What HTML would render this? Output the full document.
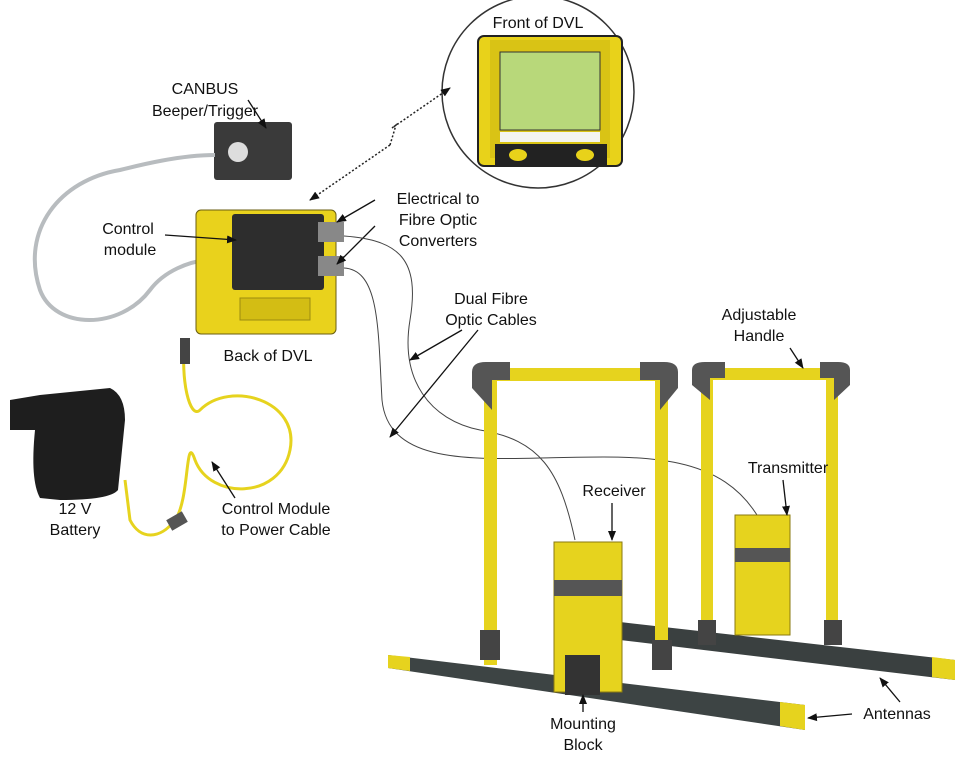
<!DOCTYPE html>
<html><head><meta charset="utf-8"><style>
html,body{margin:0;padding:0;background:#fff;}
svg{display:block;}
text{font-family:"Liberation Sans",Arial,sans-serif;font-size:16px;fill:#111;text-anchor:middle;}
</style></head><body>
<svg width="972" height="762" viewBox="0 0 972 762" xmlns="http://www.w3.org/2000/svg">
<defs>
<marker id="ah" markerWidth="10" markerHeight="10" refX="9" refY="5" orient="auto" markerUnits="userSpaceOnUse"><path d="M0,1 L10,5 L0,9 z" fill="#111"/></marker>
</defs>
<rect width="972" height="762" fill="#fff"/>

<!-- Front of DVL circle -->
<circle cx="538" cy="92" r="96" fill="#fff" stroke="#333" stroke-width="1.5"/>
<rect x="478" y="36" width="144" height="130" rx="6" fill="#e8d21a" stroke="#222" stroke-width="2"/>
<rect x="490" y="40" width="120" height="118" fill="#d9c315"/>
<rect x="500" y="52" width="100" height="78" fill="#b8d87a" stroke="#333"/>
<rect x="500" y="132" width="100" height="10" fill="#f4f4f0"/>
<rect x="495" y="144" width="112" height="22" fill="#222"/>
<ellipse cx="518" cy="155" rx="9" ry="6" fill="#e8d21a"/><ellipse cx="585" cy="155" rx="9" ry="6" fill="#e8d21a"/>
<text x="538" y="28">Front of DVL</text>
<path d="M390 145 L396 125 L392 128 L450 88" stroke="#222" stroke-width="1.5" stroke-dasharray="2,2" fill="none" marker-end="url(#ah)"/>
<path d="M390 145 L310 200" stroke="#222" stroke-width="1.5" stroke-dasharray="2,2" fill="none" marker-end="url(#ah)"/>

<!-- Beeper -->
<rect x="214" y="122" width="78" height="58" rx="3" fill="#3a3a3a"/>
<circle cx="238" cy="152" r="10" fill="#ddd"/>
<text x="205" y="94">CANBUS</text><text x="205" y="116">Beeper/Trigger</text>
<line x1="248" y1="100" x2="266" y2="128" stroke="#111" stroke-width="1.3" marker-end="url(#ah)"/>

<!-- gray cable -->
<path d="M215 155 C180 155 140 165 120 170 C60 180 20 230 40 290 C55 330 120 330 150 290 C165 270 190 262 205 260" stroke="#b8bcbf" stroke-width="4" fill="none"/>

<!-- Control module -->
<rect x="196" y="210" width="140" height="124" rx="5" fill="#e9d21c" stroke="#6a5e10"/>
<rect x="232" y="214" width="92" height="76" rx="3" fill="#2d2d2d"/>
<rect x="318" y="222" width="26" height="20" fill="#888"/><rect x="318" y="256" width="26" height="20" fill="#888"/>
<rect x="240" y="298" width="70" height="22" fill="#d3bd14" stroke="#9c8c10"/>
<text x="128" y="234">Control</text><text x="130" y="255">module</text>
<line x1="165" y1="235" x2="236" y2="240" stroke="#111" stroke-width="1.3" marker-end="url(#ah)"/>
<text x="438" y="204">Electrical to</text><text x="438" y="225">Fibre Optic</text><text x="438" y="246">Converters</text>
<line x1="375" y1="200" x2="337" y2="222" stroke="#111" stroke-width="1.3" marker-end="url(#ah)"/>
<line x1="375" y1="226" x2="337" y2="264" stroke="#111" stroke-width="1.3" marker-end="url(#ah)"/>
<text x="268" y="361">Back of DVL</text>

<!-- fibre cables -->
<path d="M344 236 C400 240 420 260 410 320 C400 380 430 420 480 430 C540 440 560 470 575 540" stroke="#444" stroke-width="1" fill="none"/>
<path d="M344 268 C380 270 378 330 382 400 C388 460 460 460 540 458 C640 456 720 450 760 520" stroke="#444" stroke-width="1" fill="none"/>
<text x="491" y="304">Dual Fibre</text><text x="491" y="325">Optic Cables</text>
<line x1="462" y1="330" x2="410" y2="360" stroke="#111" stroke-width="1.3" marker-end="url(#ah)"/>
<line x1="478" y1="330" x2="390" y2="437" stroke="#111" stroke-width="1.3" marker-end="url(#ah)"/>

<!-- battery + yellow cable -->
<path d="M10 400 L40 395 L110 388 Q125 395 125 420 L118 490 Q110 500 60 500 L40 498 Q30 480 35 430 L10 430 Z" fill="#1e1e1e"/>
<path d="M185 340 C180 380 190 420 200 410 C230 380 300 400 290 450 C280 500 210 500 195 460 C185 430 190 500 175 520 C160 540 140 540 130 520 L125 480" stroke="#e6d31e" stroke-width="3" fill="none"/>
<rect x="180" y="338" width="10" height="26" fill="#444"/>
<rect x="168" y="515" width="18" height="12" fill="#555" transform="rotate(-30 177 521)"/>
<text x="75" y="514">12 V</text><text x="75" y="535">Battery</text>
<text x="276" y="514">Control Module</text><text x="276" y="535">to Power Cable</text>
<line x1="235" y1="498" x2="212" y2="462" stroke="#111" stroke-width="1.3" marker-end="url(#ah)"/>

<!-- antennas -->
<polygon points="620,622 955,660 955,680 620,640" fill="#3a4040"/>
<polygon points="932,657 955,660 955,680 932,677" fill="#e6d31e"/>
<polygon points="388,655 805,705 805,730 388,668" fill="#3d4444"/>
<polygon points="388,655 410,657 410,671 388,668" fill="#e6d31e"/>
<polygon points="780,702 805,705 805,730 780,726" fill="#e6d31e"/>

<!-- right frame -->
<rect x="701" y="375" width="12" height="270" fill="#e6d31e"/>
<rect x="826" y="375" width="12" height="270" fill="#e6d31e"/>
<rect x="705" y="368" width="130" height="12" fill="#e6d31e"/>
<path d="M692 385 L692 370 Q692 362 705 362 L725 362 L725 378 L710 378 L710 400 Z" fill="#555"/>
<path d="M850 385 L850 370 Q850 362 838 362 L820 362 L820 378 L834 378 L834 400 Z" fill="#555"/>
<rect x="698" y="620" width="18" height="25" fill="#444"/><rect x="824" y="620" width="18" height="25" fill="#444"/>
<rect x="735" y="515" width="55" height="120" fill="#e6d31e" stroke="#8a7a10"/>
<rect x="735" y="548" width="55" height="14" fill="#555"/>
<text x="788" y="473">Transmitter</text>
<line x1="783" y1="480" x2="787" y2="515" stroke="#111" stroke-width="1.3" marker-end="url(#ah)"/>
<text x="759" y="320">Adjustable</text><text x="759" y="341">Handle</text>
<line x1="790" y1="348" x2="803" y2="368" stroke="#111" stroke-width="1.3" marker-end="url(#ah)"/>

<!-- left frame -->
<rect x="484" y="375" width="13" height="290" fill="#e6d31e"/>
<rect x="655" y="375" width="13" height="290" fill="#e6d31e"/>
<rect x="490" y="368" width="170" height="13" fill="#e6d31e"/>
<path d="M472 388 L472 372 Q472 362 486 362 L510 362 L510 380 L492 380 L492 410 Z" fill="#555"/>
<path d="M678 388 L678 372 Q678 362 664 362 L640 362 L640 380 L660 380 L660 410 Z" fill="#555"/>
<rect x="480" y="630" width="20" height="30" fill="#444"/><rect x="652" y="640" width="20" height="30" fill="#444"/>
<rect x="554" y="542" width="68" height="150" fill="#e6d31e" stroke="#8a7a10"/>
<rect x="554" y="580" width="68" height="16" fill="#555"/>
<rect x="565" y="655" width="35" height="40" fill="#333"/>
<text x="614" y="496">Receiver</text>
<line x1="612" y1="503" x2="612" y2="540" stroke="#111" stroke-width="1.3" marker-end="url(#ah)"/>
<text x="583" y="729">Mounting</text><text x="583" y="750">Block</text>
<line x1="583" y1="712" x2="583" y2="695" stroke="#111" stroke-width="1.3" marker-end="url(#ah)"/>
<text x="897" y="719">Antennas</text>
<line x1="852" y1="714" x2="808" y2="718" stroke="#111" stroke-width="1.3" marker-end="url(#ah)"/>
<line x1="900" y1="702" x2="880" y2="678" stroke="#111" stroke-width="1.3" marker-end="url(#ah)"/>
</svg>
</body></html>
